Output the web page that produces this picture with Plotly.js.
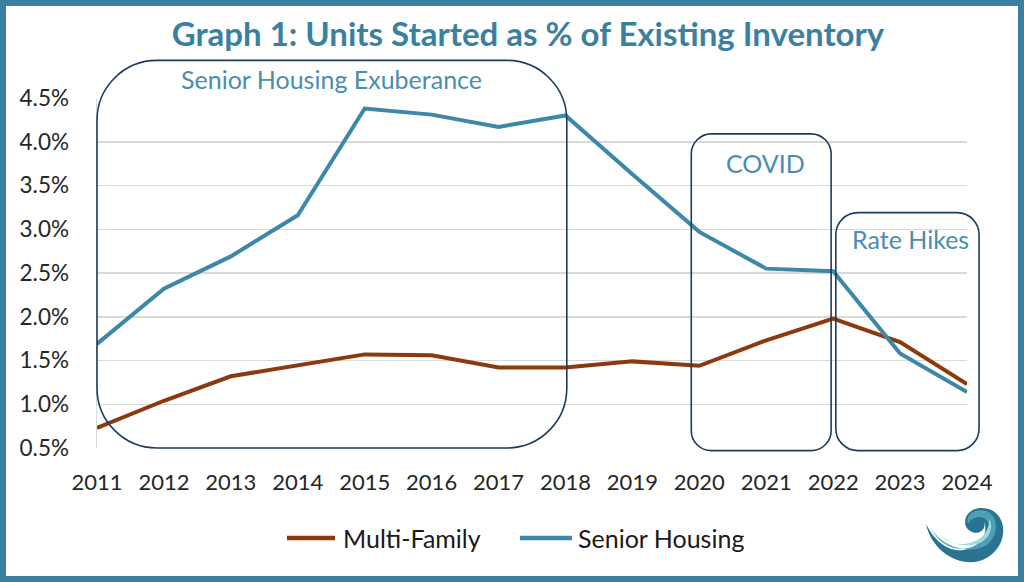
<!DOCTYPE html>
<html>
<head>
<meta charset="utf-8">
<script src="https://cdn.plot.ly/plotly-3.0.1.min.js"></script>
<style>
  html, body { margin: 0; padding: 0; background: #fff; }
  #wrap { position: relative; width: 1024px; height: 582px; overflow: hidden; }
  #chart { position: absolute; left: 0; top: 0; width: 1024px; height: 582px; }
  #frame { position: absolute; left: 0; top: 0; width: 1024px; height: 582px; box-sizing: border-box;
           border: 6px solid #3b7fa0; pointer-events: none; }
</style>
</head>
<body>
<div id="wrap">
  <div id="chart"></div>
  <div id="frame"></div>
</div>
<script>
// ---- data ----
const years = [2011, 2012, 2013, 2014, 2015, 2016, 2017, 2018, 2019, 2020, 2021, 2022, 2023, 2024];
const multiFamily = [0.73, 1.04, 1.32, 1.45, 1.57, 1.56, 1.42, 1.42, 1.49, 1.44, 1.73, 1.98, 1.71, 1.23];
const seniorHousing = [1.69, 2.32, 2.69, 3.16, 4.38, 4.31, 4.17, 4.30, 3.63, 2.97, 2.55, 2.52, 1.58, 1.14];
const yTickVals = [0.5, 1.0, 1.5, 2.0, 2.5, 3.0, 3.5, 4.0, 4.5];
const yTickText = ['0.5%', '1.0%', '1.5%', '2.0%', '2.5%', '3.0%', '3.5%', '4.0%', '4.5%'];
const xTickText = years.map(String);
const seriesNames = ['Multi-Family', 'Senior Housing'];
const seriesColors = ['#8a3a0e', '#3d87a8'];

// period boxes (in data units: years and percent)
const periodLabels = ['Senior Housing Exuberance', 'COVID', 'Rate Hikes'];
const periodX0 = [2011.0, 2019.88, 2022.04];
const periodX1 = [2018.02, 2021.97, 2024.18];
const periodY0 = [0.5, 0.47, 0.47];
const periodY1 = [4.93, 4.09, 3.19];

// ---- layout geometry ----
const W = 1024, H = 582;
const mL = 97, mR = 57, mT = 98, mB = 134;
const plotW = W - mL - mR, plotH = H - mT - mB;
const xMin = 2011, xMax = 2024, yMin = 0.5, yMax = 4.5;

const fx = v => (v - xMin) / (xMax - xMin);
const fy = v => (v - yMin) / (yMax - yMin);
const pxX = p => (p - mL) / plotW;         // page pixel -> paper x
const pxY = p => (H - mB - p) / plotH;     // page pixel -> paper y

function roundRect(x0, y0, x1, y1, rpx) {
  const rx = rpx / plotW, ry = rpx / plotH, k = 0.5523;
  return 'M' + (x0 + rx) + ',' + y1 +
    ' L' + (x1 - rx) + ',' + y1 +
    ' C' + (x1 - rx + rx * k) + ',' + y1 + ' ' + x1 + ',' + (y1 - ry + ry * k) + ' ' + x1 + ',' + (y1 - ry) +
    ' L' + x1 + ',' + (y0 + ry) +
    ' C' + x1 + ',' + (y0 + ry - ry * k) + ' ' + (x1 - rx + rx * k) + ',' + y0 + ' ' + (x1 - rx) + ',' + y0 +
    ' L' + (x0 + rx) + ',' + y0 +
    ' C' + (x0 + rx - rx * k) + ',' + y0 + ' ' + x0 + ',' + (y0 + ry - ry * k) + ' ' + x0 + ',' + (y0 + ry) +
    ' L' + x0 + ',' + (y1 - ry) +
    ' C' + x0 + ',' + (y1 - ry + ry * k) + ' ' + (x0 + rx - rx * k) + ',' + y1 + ' ' + (x0 + rx) + ',' + y1 + ' Z';
}

const radii = [60, 20, 22];
const shapes = [];
for (let i = 0; i < periodLabels.length; i++) {
  shapes.push({
    type: 'path', xref: 'paper', yref: 'paper',
    path: roundRect(fx(periodX0[i]), fy(periodY0[i]), fx(periodX1[i]), fy(periodY1[i]), radii[i]),
    line: { color: '#1d3b5c', width: 1.6 }, fillcolor: 'rgba(0,0,0,0)', layer: 'above'
  });
}

// logo (decorative wave) drawn in page pixels
function pxPath(cmds) {
  return cmds.map(c => (typeof c === 'string') ? c : (pxX(c[0]) + ',' + pxY(c[1]))).join(' ');
}
shapes.push({
  type: 'path', xref: 'paper', yref: 'paper', layer: 'above', line: { width: 0 }, fillcolor: '#2a7391',
  path: pxPath(['M', [926, 524], 'C', [934, 562], [984, 578], [1001, 542], 'C', [1008, 524], [998, 507], [980, 508],
    'C', [966, 509], [960, 524], [970, 531], 'C', [978, 536], [987, 530], [984, 521],
    'C', [990, 536], [976, 552], [956, 550], 'C', [943, 548], [933, 538], [926, 524], 'Z'])
});
shapes.push({
  type: 'path', xref: 'paper', yref: 'paper', layer: 'above', line: { width: 0 }, fillcolor: '#4d9fb5',
  path: pxPath(['M', [930, 527], 'C', [942, 548], [972, 556], [988, 544], 'C', [999, 534], [999, 516], [986, 511],
    'C', [975, 508], [965, 514], [968, 524], 'C', [972, 516], [984, 514], [988, 522],
    'C', [992, 534], [980, 549], [960, 549], 'C', [947, 548], [937, 540], [930, 527], 'Z'])
});
shapes.push({
  type: 'path', xref: 'paper', yref: 'paper', layer: 'above', line: { width: 0 }, fillcolor: '#9fdadd',
  path: pxPath(['M', [936, 530], 'C', [948, 545], [968, 549], [982, 542], 'C', [990, 537], [994, 526], [989, 519],
    'C', [990, 530], [982, 542], [964, 544], 'C', [952, 545], [943, 539], [936, 530], 'Z'])
});

const FONT = 'Lato, "Open Sans", sans-serif';

const annoPos = [[331, 79], [765, 163], [910, 239]];
const annotations = periodLabels.map((t, i) => ({
  text: t, xref: 'paper', yref: 'paper', x: pxX(annoPos[i][0]), y: pxY(annoPos[i][1]), showarrow: false,
  font: { family: FONT, size: 25, color: '#4a8db0' }, xanchor: 'center', yanchor: 'middle'
}));

// manual legend (line samples + labels)
const legLineX = [[287, 335], [520, 572]];
const legTextX = [341, 576];
const legY = 538;
for (let i = 0; i < seriesNames.length; i++) {
  shapes.push({ type: 'line', xref: 'paper', yref: 'paper',
    x0: pxX(legLineX[i][0]), x1: pxX(legLineX[i][1]), y0: pxY(legY), y1: pxY(legY),
    line: { color: seriesColors[i], width: 4.5 } });
  annotations.push({ text: seriesNames[i], xref: 'paper', yref: 'paper', x: pxX(legTextX[i]), y: pxY(legY),
    xanchor: 'left', yanchor: 'middle', showarrow: false, font: { family: FONT, size: 25, color: '#1a1a1a' } });
}

const traces = [
  { x: years, y: multiFamily, name: seriesNames[0], type: 'scatter', mode: 'lines',
    line: { color: seriesColors[0], width: 4 } },
  { x: years, y: seniorHousing, name: seriesNames[1], type: 'scatter', mode: 'lines',
    line: { color: seriesColors[1], width: 4 } }
];

const layout = {
  width: W, height: H,
  margin: { l: mL, r: mR, t: mT, b: mB, pad: 0 },
  paper_bgcolor: '#ffffff', plot_bgcolor: '#ffffff',
  title: { text: 'Graph 1: Units Started as % of Existing Inventory', x: 528 / W, xanchor: 'center',
    y: 1 - 34 / H, yanchor: 'middle', yref: 'container', xref: 'container',
    font: { family: FONT, size: 33, color: '#3b7fa1', weight: 'bold' } },
  xaxis: { range: [xMin, xMax], tickvals: years, ticktext: xTickText, showgrid: false, zeroline: false,
    showline: false, ticks: '', ticklabelstandoff: 19, tickfont: { family: FONT, size: 22, color: '#262626' },
    fixedrange: true },
  yaxis: { range: [yMin, yMax], tickvals: yTickVals, ticktext: yTickText, showgrid: true, gridcolor: '#d9d9d9',
    gridwidth: 1.5, zeroline: false, showline: true, linecolor: '#d9d9d9', linewidth: 1.5, ticks: '',
    ticklabelstandoff: 22, tickfont: { family: FONT, size: 22.5, color: '#262626' }, fixedrange: true },
  showlegend: false,
  shapes: shapes,
  annotations: annotations
};

Plotly.newPlot('chart', traces, layout, { displayModeBar: false, staticPlot: true });
</script>
</body>
</html>
